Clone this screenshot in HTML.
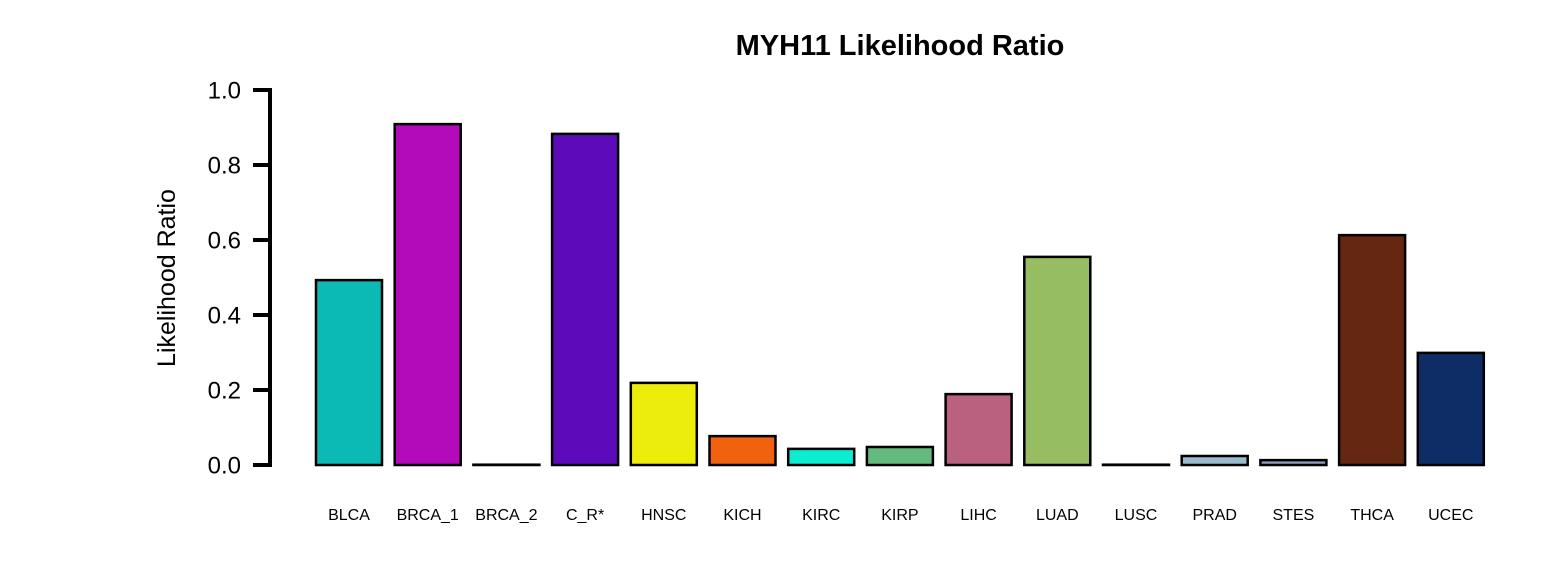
<!DOCTYPE html>
<html><head><meta charset="utf-8"><style>
html,body{margin:0;padding:0;background:#fff;}
svg{display:block;font-family:"Liberation Sans",Arial,sans-serif;}
</style></head><body>
<svg id="chart" width="1560" height="586" viewBox="0 0 1560 586">
<text x="900" y="55" text-anchor="middle" font-size="29" font-weight="bold">MYH11 Likelihood Ratio</text>
<text transform="translate(175,278) rotate(-90)" text-anchor="middle" font-size="25">Likelihood Ratio</text>
<g id="yaxis"></g>
<g id="bars"></g>
<g id="xlabels"></g>
</svg>
<script>
const categories = ["BLCA","BRCA_1","BRCA_2","C_R*","HNSC","KICH","KIRC","KIRP","LIHC","LUAD","LUSC","PRAD","STES","THCA","UCEC"];
const values = [0.493,0.909,0.0,0.883,0.219,0.077,0.043,0.048,0.189,0.555,0.0,0.024,0.013,0.613,0.299];
const colors = ["#0BBAB5","#B30BBA","#BA0B7A","#5D0BBA","#EDED0B","#F1620F","#0BEDD0","#65BA80","#BB6180","#97BD62","#3B0B55","#9BBACB","#8C9CBE","#662712","#0E2D66"];
const yTicks = [0,0.2,0.4,0.6,0.8,1.0];
const yTickLabels = ["0.0","0.2","0.4","0.6","0.8","1.0"];
const NS="http://www.w3.org/2000/svg";
function y(v){return 465-v*375;}
function xLeft(i){return 316+i*78.7;}
const barW=66;
const ya=document.getElementById('yaxis');
let l=document.createElementNS(NS,'line');
l.setAttribute('x1',270);l.setAttribute('x2',270);l.setAttribute('y1',y(0)+2);l.setAttribute('y2',y(1)-2);
l.setAttribute('stroke','#000');l.setAttribute('stroke-width',4);


ya.appendChild(l);
yTicks.forEach((t,i)=>{
  const tk=document.createElementNS(NS,'line');
  tk.setAttribute('x1',253);tk.setAttribute('x2',272);tk.setAttribute('y1',y(t));tk.setAttribute('y2',y(t));
  tk.setAttribute('stroke','#000');tk.setAttribute('stroke-width',4);
  
  
  ya.appendChild(tk);
  const tx=document.createElementNS(NS,'text');
  tx.setAttribute('x',241);tx.setAttribute('y',y(t)+8.5);tx.setAttribute('text-anchor','end');tx.setAttribute('font-size',24);
  tx.textContent=yTickLabels[i];
  
  
  ya.appendChild(tx);
});
const bg=document.getElementById('bars'), xg=document.getElementById('xlabels');
categories.forEach((c,i)=>{
  const r=document.createElementNS(NS,'rect');
  const top=Math.min(y(values[i]),y(0)-0.3);
  r.setAttribute('x',xLeft(i));r.setAttribute('y',top);r.setAttribute('width',barW);r.setAttribute('height',y(0)-top);
  r.setAttribute('fill',colors[i]);r.setAttribute('stroke','#000');r.setAttribute('stroke-width',2.5);
  
  
  bg.appendChild(r);
  const t=document.createElementNS(NS,'text');
  t.setAttribute('x',xLeft(i)+barW/2);t.setAttribute('y',520);t.setAttribute('text-anchor','middle');t.setAttribute('font-size',16);
  t.textContent=c;
  
  
  xg.appendChild(t);
});
</script>
</body></html>
